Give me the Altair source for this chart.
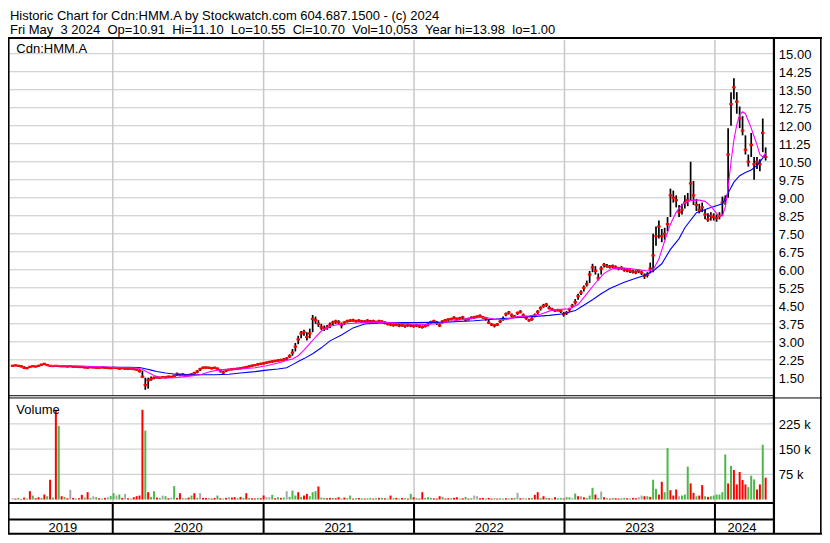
import altair as alt
import pandas as pd

# ---------------- data ----------------
# weekly bars (Fridays) from 2019-05-03 to 2024-05-03
close = [2.00,2.02,2.00,1.98,1.92,1.90,1.96,1.98,1.97,2.00,
 2.05,2.08,2.03,2.00,1.99,2.00,1.99,1.98,1.98,1.97,
 1.98,1.96,1.96,1.95,1.95,1.93,1.92,1.94,1.93,1.92,
 1.92,1.93,1.92,1.91,1.90,1.92,1.91,1.88,1.90,1.88,
 1.87,1.88,1.86,1.84,
 1.78,1.55,1.20,1.40,1.45,1.50,
 1.52,1.50,1.53,1.52,1.55,1.54,1.58,1.65,1.62,1.64,1.60,1.62,1.64,
 1.70,1.76,1.86,1.92,1.93,1.92,1.90,1.92,1.88,1.80,
 1.72,1.80,1.84,1.86,1.87,1.88,1.90,1.92,1.95,1.98,
 2.00,2.03,2.06,2.08,2.10,2.13,2.16,2.18,2.20,2.22,
 2.24,2.26,
 2.30,2.40,2.55,2.80,3.10,3.35,3.40,3.20,3.35,3.95,3.90,3.75,3.60,3.55,3.60,3.70,3.80,3.85,
 3.82,3.70,3.80,3.86,3.88,3.90,3.86,3.88,3.85,3.84,3.88,3.85,3.86,3.82,3.86,3.84,3.80,3.75,3.72,3.70,3.72,3.68,3.70,3.66,3.70,3.68,3.66,
 3.68,3.65,3.62,3.66,3.72,3.82,3.86,3.80,3.68,3.85,3.90,3.93,3.95,4.00,3.95,3.98,4.02,3.92,3.95,4.00,
 4.02,4.05,4.08,4.02,3.98,3.80,3.72,3.68,3.72,3.85,3.95,4.15,4.22,4.10,4.05,4.20,4.25,4.10,4.00,3.90,
 3.95,4.10,4.25,4.40,4.50,4.55,4.40,4.35,4.30,4.32,4.28,4.15,4.20,4.35,4.50,4.65,4.90,5.05,5.25,5.40,
 5.80,6.10,5.95,5.65,6.05,6.20,6.15,6.12,6.15,6.10,6.05,6.08,6.00,5.98,5.95,5.92,5.90,5.95,5.88,5.75,
 5.80,6.05,6.60,7.40,7.80,7.40,7.50,7.90,9.10,9.00,8.90,8.40,8.50,8.80,8.90,9.60,9.10,8.70,8.50,8.60,
 8.30,8.10,8.25,8.20,8.15,8.25,8.80,8.95,10.80,12.90,13.60,13.00,12.30,11.80,11.00,10.50,11.20,10.40,10.50,10.40,11.70,10.70]

high = [2.04,2.05,2.03,2.02,1.98,1.95,1.99,2.01,2.00,2.04,
 2.08,2.12,2.08,2.03,2.02,2.03,2.02,2.01,2.01,2.00,
 2.01,1.99,1.99,1.98,1.98,1.97,1.95,1.97,1.96,1.95,
 1.95,1.96,1.95,1.94,1.93,1.95,1.94,1.92,1.93,1.91,
 1.90,1.91,1.90,1.88,
 1.86,1.80,1.50,1.50,1.55,1.56,
 1.56,1.55,1.57,1.56,1.59,1.58,1.63,1.72,1.67,1.69,1.65,1.66,1.69,
 1.75,1.82,1.92,1.97,1.97,1.96,1.94,1.96,1.93,1.87,
 1.80,1.84,1.88,1.90,1.91,1.92,1.94,1.96,1.99,2.03,
 2.05,2.08,2.11,2.13,2.15,2.18,2.21,2.23,2.25,2.27,
 2.29,2.32,
 2.36,2.48,2.70,2.95,3.25,3.45,3.50,3.40,3.55,4.12,4.05,3.90,3.75,3.68,3.70,3.80,3.88,3.92,
 3.90,3.80,3.86,3.92,3.94,3.96,3.92,3.94,3.91,3.90,3.94,3.91,3.92,3.88,3.92,3.90,3.86,3.82,3.78,3.76,3.78,3.74,3.76,3.72,3.76,3.74,3.72,
 3.74,3.71,3.68,3.72,3.80,3.88,3.92,3.87,3.78,3.90,3.95,3.98,4.00,4.06,4.01,4.04,4.08,3.98,4.01,4.06,
 4.08,4.10,4.14,4.08,4.04,3.92,3.78,3.74,3.78,3.92,4.05,4.22,4.28,4.18,4.12,4.26,4.32,4.18,4.06,3.96,
 4.02,4.18,4.32,4.48,4.58,4.62,4.50,4.42,4.37,4.38,4.34,4.24,4.28,4.42,4.58,4.78,5.00,5.15,5.35,5.55,
 5.95,6.25,6.15,5.85,6.15,6.28,6.24,6.20,6.22,6.18,6.12,6.15,6.08,6.05,6.02,6.00,5.98,6.02,5.96,5.85,
 5.90,6.30,7.50,7.80,8.05,7.70,7.75,8.20,9.38,9.30,9.10,8.70,8.75,9.10,9.20,10.50,9.70,8.95,8.75,8.80,
 8.50,8.35,8.40,8.35,8.30,8.40,9.05,9.10,11.90,13.40,13.98,13.40,12.80,12.40,11.60,10.80,11.70,10.70,10.70,10.60,12.30,11.10]

low = [1.97,1.98,1.96,1.93,1.88,1.87,1.92,1.95,1.94,1.96,
 2.00,2.03,2.00,1.97,1.96,1.97,1.96,1.95,1.95,1.94,
 1.95,1.93,1.93,1.92,1.92,1.90,1.89,1.91,1.90,1.89,
 1.89,1.90,1.89,1.88,1.87,1.89,1.88,1.85,1.87,1.85,
 1.84,1.85,1.83,1.80,
 1.72,1.50,1.00,1.05,1.38,1.44,
 1.47,1.46,1.48,1.48,1.50,1.50,1.53,1.58,1.57,1.59,1.55,1.57,1.59,
 1.64,1.69,1.78,1.87,1.88,1.87,1.85,1.87,1.82,1.72,
 1.65,1.74,1.79,1.81,1.82,1.83,1.85,1.87,1.90,1.93,
 1.95,1.98,2.01,2.03,2.05,2.08,2.11,2.13,2.15,2.17,
 2.19,2.21,
 2.24,2.32,2.42,2.60,2.90,3.15,3.25,3.05,3.15,3.40,3.75,3.62,3.50,3.45,3.50,3.58,3.70,3.75,
 3.72,3.56,3.70,3.80,3.82,3.84,3.80,3.82,3.79,3.78,3.82,3.79,3.80,3.76,3.80,3.78,3.73,3.68,3.65,3.63,3.65,3.61,3.63,3.59,3.63,3.61,3.59,
 3.61,3.58,3.55,3.60,3.65,3.75,3.80,3.70,3.62,3.76,3.84,3.87,3.89,3.93,3.88,3.92,3.95,3.85,3.89,3.94,
 3.96,3.99,4.02,3.96,3.88,3.74,3.66,3.60,3.66,3.78,3.88,4.06,4.14,4.03,3.99,4.12,4.18,4.02,3.92,3.84,
 3.88,4.02,4.15,4.30,4.42,4.45,4.35,4.28,4.24,4.26,4.20,4.05,4.12,4.25,4.40,4.55,4.75,4.95,5.10,5.30,
 5.45,5.90,5.80,5.55,5.80,6.10,6.08,6.05,6.06,6.02,5.98,6.00,5.92,5.90,5.87,5.85,5.82,5.86,5.78,5.62,
 5.68,5.85,5.90,7.00,7.30,7.15,7.25,7.60,8.20,8.80,8.60,8.20,8.30,8.55,8.65,8.90,8.70,8.45,8.35,8.40,
 8.10,8.00,8.05,8.05,8.00,8.10,8.25,8.70,9.00,12.00,13.10,12.50,11.90,11.60,10.80,10.30,10.70,9.75,10.20,10.10,10.90,10.55]

# weekly volume (thousands) and bar colour (r = down, g = up, k = unchanged)
volume_k = [4,3,5,2,6,3,25,12,4,7,
 5,15,10,59,6,267,219,10,8,4,
 29,5,3,4,14,6,22,5,10,7,
 4,3,5,7,11,19,12,15,5,17,
 4,3,7,10,12,267,205,22,8,25,
 6,5,12,10,4,6,40,5,19,5,
 4,6,12,19,5,19,5,5,4,3,
 5,12,4,3,5,7,6,7,4,8,
 5,19,5,4,3,5,4,12,7,7,
 14,4,7,5,6,25,8,27,12,22,
 8,12,17,10,22,25,39,6,5,4,
 5,5,4,7,3,6,4,12,3,4,
 5,4,3,4,5,3,4,5,5,4,
 3,12,4,5,3,5,4,3,17,7,
 4,3,22,5,7,5,4,3,10,8,
 3,4,4,5,7,3,4,8,3,4,
 12,10,4,5,3,5,3,4,3,4,
 3,4,3,4,5,20,4,5,3,4,
 5,14,22,5,10,5,4,3,7,4,
 5,3,7,7,5,18,10,10,7,5,
 12,35,15,5,24,7,4,3,5,4,
 3,4,5,4,3,5,4,7,12,10,
 10,8,59,32,15,53,22,153,28,12,
 30,10,12,15,98,48,20,10,12,43,
 10,8,10,12,15,15,22,134,48,100,
 88,45,82,58,45,37,71,60,30,45,163,65]
volume_dir = list(
 "krgrrgrgrr" "grgrgrgrgr" "krgrrgrgkg" "rgrkggkgrk" "rgrrrrgrgg"
 "rgkgrkgrrk" "grgrgkrrgr" "rgrgrkrrgr" "grgrrgrrkk" "grgrgkgggr"
 "grrgggrggr" "rgrrgrggrg" "rgrggrgrgr" "grgrgrgrgr" "grrgggrrrg"
 "rrgrrgrgrg" "kkrrgrrgrg" "grgrgkrkgr" "grrgrgrgrg" "grggkgrkrg"
 "ggrgkrgrgr" "rggrgrrkkr" "grggrrggrr" "rkgggrrgrr" "grggggggrg"
 "rrrrrggg" "rrgr")

# moving averages: week index -> value
fast_idx = [12,16,20,24,28,32,36,40,43,45,47,49,51,53,56,59,62,65,68,71,74,77,80,84,88,92,95,97,99,101,
 103,105,107,110,113,117,122,128,133,138,143,148,153,158,163,167,171,175,179,183,187,190,193,196,199,202,205,208,211,214,
 217,220,222,224,226,228,230,232,234,236,238,240,242,244,245,246,247,248,249,250,251,252,253,254,255,256,257,258,259,260,261]
fast_val = [2.00,2.01,2.00,1.99,1.97,1.95,1.93,1.92,1.91,1.85,1.72,1.60,1.52,1.49,1.50,1.54,1.58,1.63,1.74,1.82,
 1.85,1.87,1.88,1.92,2.00,2.12,2.22,2.28,2.42,2.65,2.92,3.20,3.45,3.65,3.72,3.76,3.80,3.82,3.78,3.74,
 3.72,3.76,3.88,3.96,4.02,3.95,3.92,4.05,4.08,4.15,4.32,4.35,4.38,4.55,5.00,5.45,5.85,6.05,6.08,6.05,
 6.00,5.95,6.00,6.45,7.20,7.90,8.40,8.70,8.85,8.90,8.90,8.85,8.65,8.35,8.22,8.25,8.60,9.40,10.50,11.40,
 12.05,12.45,12.58,12.50,12.20,11.90,11.55,11.20,10.80,10.70,10.85]
slow_idx = [31,36,40,44,46,48,50,53,56,60,65,70,75,79,84,88,92,95,97,99,101,104,107,110,114,118,122,126,132,140,
 150,160,170,180,186,191,195,197,201,204,207,212,216,219,222,225,228,231,233,237,241,246,248,250,252,254,256,258,260,261]
slow_val = [1.94,1.94,1.94,1.93,1.88,1.82,1.76,1.70,1.66,1.64,1.63,1.63,1.65,1.70,1.76,1.82,1.87,1.92,2.05,2.18,
 2.30,2.50,2.75,3.04,3.28,3.58,3.74,3.78,3.80,3.80,3.82,3.88,3.97,4.05,4.10,4.17,4.30,4.45,4.75,5.00,
 5.22,5.48,5.65,5.76,5.95,6.25,6.85,7.30,7.75,8.38,8.55,8.75,9.20,9.65,9.92,10.05,10.16,10.35,10.65,10.84]

price_ticks = [1.50,2.25,3.00,3.75,4.50,5.25,6.00,6.75,7.50,8.25,9.00,9.75,10.50,11.25,12.00,12.75,13.50,14.25,15.00]
volume_ticks = [75000,150000,225000]
volume_tick_labels = ["75 k","150 k","225 k"]
year_starts = ["2020-01-01","2021-01-01","2022-01-01","2023-01-01","2024-01-01"]
year_labels = ["2019","2020","2021","2022","2023","2024"]

title1 = "Historic Chart for Cdn:HMM.A by Stockwatch.com 604.687.1500 - (c) 2024"
title2 = ("Fri May \u00a03 2024 \u00a0Op=10.91 \u00a0Hi=11.10 \u00a0Lo=10.55 \u00a0Cl=10.70 "
          "\u00a0Vol=10,053 \u00a0Year hi=13.98 \u00a0lo=1.00")
symbol = "Cdn:HMM.A"

# ---------------- layout ----------------
W, H = 814, 527
SX, SY = W / 830, H / 543
def X(p): return round(p * SX, 2)
def Y(p): return round(p * SY, 2)

FONT = "Liberation Sans"
FS = 13
GRID = "#c8c8c8"
RED, GREEN, GRAY = "#ff0000", "#4cb84c", "#a8a8a8"

START = pd.Timestamp("2019-05-04")
END = pd.Timestamp("2024-05-11")
D_END = (END - START).days

weeks = pd.date_range("2019-05-03", periods=len(close), freq="7D")
wd = [(t - START).days for t in weeks]

bars = pd.DataFrame({"d": wd, "c": close, "h": high, "l": low,
                     "v": [v * 1000 for v in volume_k], "dir": volume_dir})
fast = pd.DataFrame({"d": [wd[i] for i in fast_idx], "m": fast_val})
slow = pd.DataFrame({"d": [wd[i] for i in slow_idx], "m": slow_val})
yb = [(pd.Timestamp(s) - START).days for s in year_starts]
years = pd.DataFrame({"d": yb})
edges = [0] + yb + [D_END]
year_df = pd.DataFrame({"m": [(edges[k] + edges[k + 1]) / 2 for k in range(len(year_labels))],
                        "t": year_labels})
pt = pd.DataFrame({"p": price_ticks, "t": [f"{p:.2f}" for p in price_ticks]})
vt = pd.DataFrame({"v": volume_ticks, "t": volume_tick_labels})
one = pd.DataFrame({"a": [0]})

xs = alt.Scale(domain=[0, D_END], range=[0, X(781)], nice=False, zero=False)
ps = alt.Scale(domain=[0.75, 15.57], range=[Y(399.6), Y(33)], nice=False, zero=False)
vs = alt.Scale(domain=[0, 300000], range=[Y(506.5), Y(402.5)], nice=False, zero=True)

layers = []
# gridlines
layers.append(alt.Chart(pt).mark_rule(color=GRID, strokeWidth=1).encode(
    y=alt.Y("p:Q", scale=ps, axis=None), x=alt.value(0), x2=alt.value(X(781))))
layers.append(alt.Chart(vt).mark_rule(color=GRID, strokeWidth=1).encode(
    y=alt.Y("v:Q", scale=vs, axis=None), x=alt.value(0), x2=alt.value(X(781))))
layers.append(alt.Chart(years).mark_rule(color=GRID, strokeWidth=1.5).encode(
    x=alt.X("d:Q", scale=xs, axis=None), y=alt.value(Y(33)), y2=alt.value(Y(399))))
layers.append(alt.Chart(years).mark_rule(color=GRID, strokeWidth=1.5).encode(
    x=alt.X("d:Q", scale=xs, axis=None), y=alt.value(Y(402)), y2=alt.value(Y(509))))

# volume bars
layers.append(alt.Chart(bars).mark_bar(size=2).encode(
    x=alt.X("d:Q", scale=xs, axis=None),
    y=alt.Y("v:Q", scale=vs, axis=None),
    color=alt.Color("dir:N", scale=alt.Scale(domain=["r", "g", "k"], range=[RED, GREEN, GRAY]), legend=None)))

# price bars
layers.append(alt.Chart(bars).mark_rule(color="black", strokeWidth=1.7).encode(
    x=alt.X("d:Q", scale=xs, axis=None),
    y=alt.Y("l:Q", scale=ps, axis=None), y2="h:Q"))
layers.append(alt.Chart(bars).mark_tick(color=RED, orient="horizontal", size=3.5, thickness=2.2, opacity=1).encode(
    x=alt.X("d:Q", scale=xs, axis=None),
    y=alt.Y("c:Q", scale=ps, axis=None)))

# moving averages
layers.append(alt.Chart(slow).mark_line(color="#0000ff", strokeWidth=1.1).encode(
    x=alt.X("d:Q", scale=xs, axis=None), y=alt.Y("m:Q", scale=ps, axis=None)))
layers.append(alt.Chart(fast).mark_line(color="#ff00ff", strokeWidth=1.1).encode(
    x=alt.X("d:Q", scale=xs, axis=None), y=alt.Y("m:Q", scale=ps, axis=None)))

# frame
def hline(y, x1, x2, w):
    return alt.Chart(one).mark_rule(color="black", strokeWidth=w).encode(
        x=alt.value(X(x1)), x2=alt.value(X(x2)), y=alt.value(Y(y)))
def vline(x, y1, y2, w):
    return alt.Chart(one).mark_rule(color="black", strokeWidth=w).encode(
        x=alt.value(X(x)), y=alt.value(Y(y1)), y2=alt.value(Y(y2)))

layers += [hline(31, 0, 830, 2), vline(0.8, 31, 542, 1.6), vline(781, 31, 542, 2.2),
           vline(828.8, 31, 542, 1.6), hline(399.5, 0, 781, 1), hline(401.8, 0, 830, 1),
           hline(510, 0, 781, 2), hline(527, 0, 781, 2), hline(541.8, 0, 830, 2)]
layers.append(alt.Chart(years).mark_rule(color="black", strokeWidth=2).encode(
    x=alt.X("d:Q", scale=xs, axis=None), y=alt.value(Y(510)), y2=alt.value(Y(542))))

# texts
def label(txt, x, y):
    return alt.Chart(one).mark_text(font=FONT, fontSize=FS, align="left", baseline="alphabetic",
                                    color="black").encode(x=alt.value(X(x)), y=alt.value(Y(y)),
                                                          text=alt.value(txt))
layers += [label(title1, 2, 12.7), label(title2, 2, 27), label(symbol, 8.5, 46), label("Volume", 8.5, 418)]
layers.append(alt.Chart(pt).mark_text(font=FONT, fontSize=FS, align="left", baseline="middle", dy=1,
                                      color="black").encode(
    y=alt.Y("p:Q", scale=ps, axis=None), x=alt.value(X(786)), text="t:N"))
layers.append(alt.Chart(vt).mark_text(font=FONT, fontSize=FS, align="left", baseline="middle", dy=1,
                                      color="black").encode(
    y=alt.Y("v:Q", scale=vs, axis=None), x=alt.value(X(786)), text="t:N"))
layers.append(alt.Chart(year_df).mark_text(font=FONT, fontSize=FS, align="center", baseline="middle",
                                           color="black").encode(
    x=alt.X("m:Q", scale=xs, axis=None), y=alt.value(Y(535.5)), text="t:N"))

chart = alt.layer(*layers).resolve_scale(y="independent").properties(
    width=W, height=H, padding=0, autosize=alt.AutoSizeParams(type="none"), background="white"
).configure_view(stroke=None)

chart.save("out.html", embed_options={"renderer": "svg", "actions": False})
